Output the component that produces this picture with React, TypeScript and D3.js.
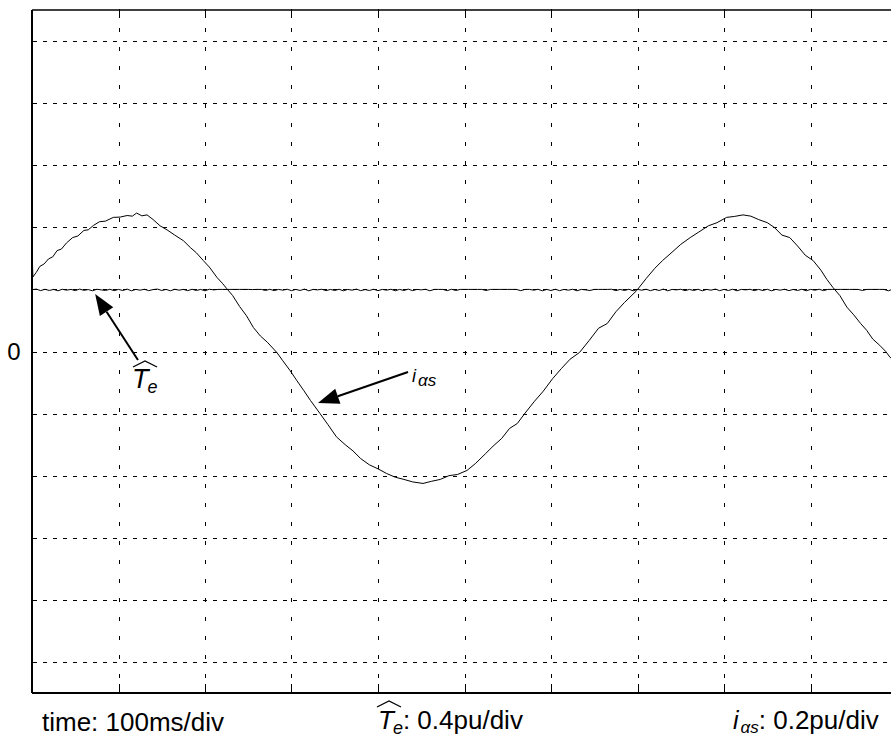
import * as d3 from 'd3';

// time axis: 100 ms / div
const timeTicks = [0, 100, 200, 300, 400, 500, 600, 700, 800, 900, 1000];
// current axis: 0.2 pu / div (Te: 0.4 pu / div)
const currentTicks = [-1.0, -0.8, -0.6, -0.4, -0.2, 0, 0.2, 0.4, 0.6, 0.8, 1.0];

// i_alpha_s samples: [time ms, pu]
const iAlphaS: [number, number][] = [
  [0, 0.335], [1, 0.24], [5, 0.255], [9, 0.274], [14, 0.282], [19, 0.298], [24, 0.305],
  [29, 0.325], [34, 0.33], [40, 0.35], [47, 0.367], [53, 0.372], [60, 0.39], [65, 0.392],
  [71, 0.406], [78, 0.418], [85, 0.42], [94, 0.432], [102, 0.433], [110, 0.438], [116, 0.436],
  [121, 0.446], [127, 0.437], [133, 0.44], [140, 0.425], [148, 0.405], [156, 0.392],
  [165, 0.375], [175, 0.357], [183, 0.335], [190, 0.318], [198, 0.293], [205, 0.272],
  [214, 0.238], [220, 0.22], [225, 0.203], [232, 0.18], [240, 0.145], [248, 0.115],
  [256, 0.077], [264, 0.05], [272, 0.03], [283, -0.003], [290, -0.03], [298, -0.06],
  [306, -0.093], [314, -0.125], [322, -0.158], [333, -0.2], [342, -0.235], [352, -0.275],
  [362, -0.3], [371, -0.32], [380, -0.345], [390, -0.365], [400, -0.378], [410, -0.393],
  [420, -0.405], [430, -0.412], [440, -0.42], [452, -0.425], [462, -0.418], [472, -0.412],
  [482, -0.4], [492, -0.396], [503, -0.383], [513, -0.36], [524, -0.33], [533, -0.305],
  [543, -0.28], [552, -0.248], [561, -0.232], [571, -0.195], [581, -0.16], [591, -0.128],
  [602, -0.087], [612, -0.055], [622, -0.025], [633, -0.003], [644, 0.035], [655, 0.075],
  [665, 0.09], [675, 0.128], [685, 0.158], [699, 0.196], [710, 0.235], [720, 0.268],
  [729, 0.293], [740, 0.32], [750, 0.345], [761, 0.367], [771, 0.385], [782, 0.405],
  [792, 0.415], [803, 0.432], [812, 0.435], [822, 0.44], [831, 0.436], [840, 0.425],
  [850, 0.415], [858, 0.4], [867, 0.375], [876, 0.367], [885, 0.34], [894, 0.31],
  [903, 0.293], [912, 0.262], [919, 0.232], [926, 0.206], [934, 0.18], [942, 0.143],
  [950, 0.118], [958, 0.09], [965, 0.068], [972, 0.04], [980, 0.02], [987, 0.0],
  [992, -0.019], [1000, -0.03],
];

// Te estimate, one sample every 5 ms (pu)
const teStep = 5;
const teValues = [
  0.398, 0.402, 0.392, 0.401, 0.393, 0.4, 0.391, 0.401, 0.395, 0.4, 0.392, 0.402, 0.394, 0.399, 0.391, 0.401, 0.397, 0.393, 0.401, 0.392,
  0.4, 0.393, 0.402, 0.391, 0.4, 0.395, 0.401, 0.392, 0.399, 0.402, 0.393, 0.4, 0.391, 0.401, 0.395, 0.4, 0.392, 0.401, 0.393, 0.4,
  0.391, 0.401, 0.397, 0.4, 0.4, 0.4, 0.4, 0.4, 0.4, 0.4, 0.4, 0.399, 0.4, 0.4, 0.393, 0.401, 0.392, 0.4, 0.395, 0.401,
  0.392, 0.4, 0.393, 0.402, 0.391, 0.4, 0.397, 0.401, 0.392, 0.4, 0.393, 0.401, 0.391, 0.4, 0.395, 0.402, 0.392, 0.399, 0.393, 0.401,
  0.392, 0.4, 0.395, 0.401, 0.391, 0.4, 0.393, 0.402, 0.392, 0.4, 0.397, 0.401, 0.391, 0.4, 0.4, 0.4, 0.392, 0.401, 0.393, 0.4,
  0.4, 0.4, 0.4, 0.4, 0.4, 0.393, 0.4, 0.4, 0.4, 0.4, 0.4, 0.4, 0.4, 0.392, 0.4, 0.4, 0.395, 0.401, 0.391, 0.4,
  0.393, 0.401, 0.392, 0.4, 0.395, 0.401, 0.391, 0.4, 0.397, 0.393, 0.4, 0.4, 0.4, 0.4, 0.401, 0.392, 0.4, 0.393, 0.401, 0.391,
  0.4, 0.395, 0.401, 0.392, 0.4, 0.393, 0.402, 0.391, 0.4, 0.397, 0.401, 0.392, 0.4, 0.393, 0.401, 0.391, 0.4, 0.395, 0.402, 0.392,
  0.4, 0.393, 0.401, 0.391, 0.4, 0.397, 0.401, 0.392, 0.4, 0.393, 0.401, 0.391, 0.4, 0.395, 0.401, 0.392, 0.4, 0.393, 0.401, 0.391,
  0.4, 0.395, 0.401, 0.392, 0.4, 0.4, 0.4, 0.4, 0.4, 0.4, 0.4, 0.4, 0.393, 0.4, 0.4, 0.4, 0.4, 0.4, 0.391, 0.401, 0.393,
];

// annotation arrows: [tail, tip] in data units
const teArrow = { tail: [122.5, -0.055], tip: [73, 0.37] };
const iArrow = { tail: [434.7, -0.066], tip: [330.6, -0.166] };

const W = 891;
const H = 747;
const frame = { left: 32, top: 10, right: 897, bottom: 693 };
const font = 'Liberation Sans, Arial, Helvetica, sans-serif';

const x = d3.scaleLinear().domain([0, 1000]).range([frame.left, frame.right]);
const yI = d3.scaleLinear().domain([-1.1, 1.1]).range([frame.bottom, frame.top]);
const yT = d3.scaleLinear().domain([-2.2, 2.2]).range([frame.bottom, frame.top]);

function Arrow({ tail, tip }: { tail: number[]; tip: number[] }) {
  const dx = tip[0] - tail[0];
  const dy = tip[1] - tail[1];
  const len = Math.hypot(dx, dy);
  const ux = dx / len, uy = dy / len;
  const headLen = 21, half = 8;
  const bx = tip[0] - ux * headLen, by = tip[1] - uy * headLen;
  const pts = [
    [tip[0], tip[1]],
    [bx - uy * half, by + ux * half],
    [bx + uy * half, by - ux * half],
  ];
  return (
    <g>
      <line x1={tail[0]} y1={tail[1]} x2={bx} y2={by} stroke="#000" strokeWidth={2} />
      <polygon points={pts.map((p) => p.join(',')).join(' ')} fill="#000" />
    </g>
  );
}

function Hat({ x0, x1, y0, h }: { x0: number; x1: number; y0: number; h: number }) {
  const mid = (x0 + x1) / 2;
  return (
    <path
      d={`M${x0},${y0} L${mid},${y0 - h} L${x1},${y0}`}
      fill="none"
      stroke="#000"
      strokeWidth={1.3}
    />
  );
}

export default function App() {
  const iLine = d3.line<[number, number]>()
    .x((d) => x(d[0]))
    .y((d) => yI(d[1]));
  const teLine = d3.line<number>()
    .x((_, i) => x(i * teStep))
    .y((d) => yT(d));

  const gridT = timeTicks.slice(1, -1);
  const gridI = currentTicks;
  const px = (v: number) => Math.round(v) + 0.5;

  return (
    <div style={{ position: 'absolute', left: 0, top: 0 }}>
      <svg width={W} height={H} style={{ display: 'block', background: '#fff' }} fontFamily={font}>
        <defs>
          <clipPath id="plot">
            <rect x={frame.left} y={frame.top} width={frame.right - frame.left} height={frame.bottom - frame.top} />
          </clipPath>
        </defs>

        {/* grid */}
        {gridI.map((v) => (
          <line key={'h' + v} x1={frame.left} x2={frame.right} y1={px(yI(v))} y2={px(yI(v))}
            stroke="#000" strokeWidth={1} strokeDasharray="4 6" strokeDashoffset={-1} />
        ))}
        {gridT.map((t) => (
          <line key={'v' + t} x1={px(x(t))} x2={px(x(t))} y1={frame.top - 1} y2={frame.bottom}
            stroke="#000" strokeWidth={1} strokeDasharray="4 15" />
        ))}

        {/* ticks */}
        {gridT.map((t) => (
          <g key={'t' + t}>
            <line x1={px(x(t))} x2={px(x(t))} y1={frame.top} y2={frame.top + 8} stroke="#000" />
            <line x1={px(x(t))} x2={px(x(t))} y1={frame.bottom - 9} y2={frame.bottom} stroke="#000" />
          </g>
        ))}
        {gridI.map((v) => (
          <line key={'l' + v} x1={frame.left} x2={frame.left + 5} y1={px(yI(v))} y2={px(yI(v))} stroke="#000" />
        ))}

        {/* frame */}
        <line x1={frame.left} x2={frame.right} y1={frame.top} y2={frame.top} stroke="#000" strokeWidth={1.5} />
        <line x1={frame.left} x2={frame.right} y1={frame.bottom} y2={frame.bottom} stroke="#000" strokeWidth={1.8} />
        <line x1={frame.left} x2={frame.left} y1={frame.top} y2={frame.bottom} stroke="#000" strokeWidth={2} />

        {/* traces */}
        <g clipPath="url(#plot)">
          <path d={teLine(teValues) ?? ''} fill="none" stroke="#000" strokeWidth={1} />
          <path d={iLine(iAlphaS) ?? ''} fill="none" stroke="#000" strokeWidth={1} />
        </g>

        {/* annotations */}
        <Arrow tail={[x(teArrow.tail[0]), yT(teArrow.tail[1])]} tip={[x(teArrow.tip[0]), yT(teArrow.tip[1])]} />
        <Arrow tail={[x(iArrow.tail[0]), yI(iArrow.tail[1])]} tip={[x(iArrow.tip[0]), yI(iArrow.tip[1])]} />

        <Hat x0={133} x1={157} y0={367} h={6} />
        <text x={132} y={388} fontStyle="italic">
          <tspan fontSize={27}>T</tspan>
          <tspan fontSize={18} dx={-1} dy={5}>e</tspan>
        </text>

        <text x={412} y={382} fontStyle="italic">
          <tspan fontSize={18}>i</tspan>
          <tspan fontSize={17} dx={2} dy={4}>αs</tspan>
        </text>

        {/* y label */}
        <text x={14} y={yI(0)} textAnchor="middle" dominantBaseline="central" fontSize={24}>0</text>

        {/* bottom labels */}
        <text x={42} y={731} fontSize={26}>time: 100ms/div</text>

        <Hat x0={377} x1={401} y0={707} h={6} />
        <text x={378} y={729}>
          <tspan fontSize={26} fontStyle="italic">T</tspan>
          <tspan fontSize={18} fontStyle="italic" dx={-1} dy={5}>e</tspan>
          <tspan fontSize={26} dy={-5}>: 0.4pu/div</tspan>
        </text>

        <text x={733} y={729}>
          <tspan fontSize={25} fontStyle="italic">i</tspan>
          <tspan fontSize={17} fontStyle="italic" dx={2} dy={4}>αs</tspan>
          <tspan fontSize={26} dy={-4}>: 0.2pu/div</tspan>
        </text>
      </svg>
    </div>
  );
}
